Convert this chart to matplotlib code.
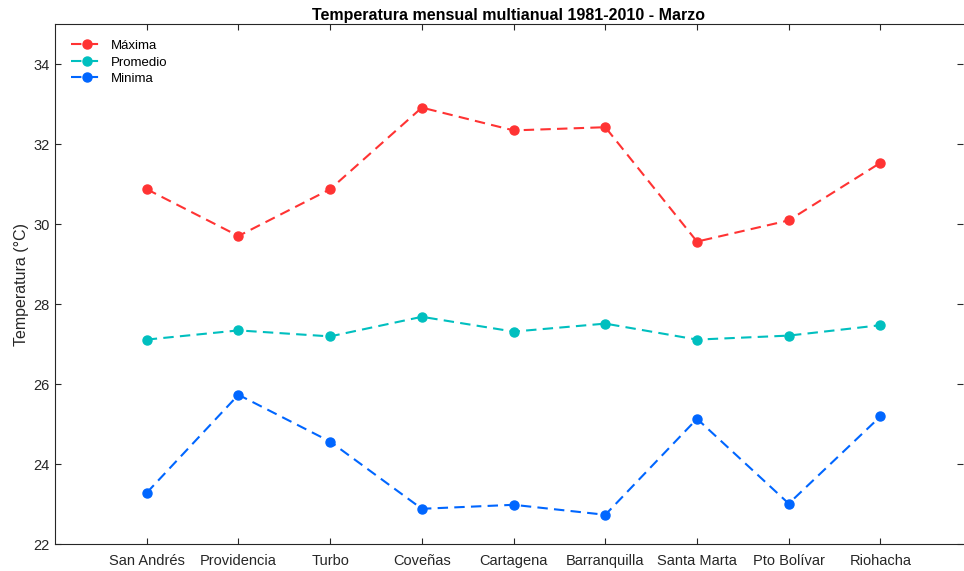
"""Temperatura mensual multianual 1981-2010 (Marzo) por estación."""

import matplotlib

matplotlib.use("Agg")
import matplotlib.pyplot as plt
import numpy as np

plt.rcParams["font.family"] = ["Liberation Sans", "DejaVu Sans"]

ESTACIONES = [
    "San Andrés", "Providencia", "Turbo", "Coveñas", "Cartagena",
    "Barranquilla", "Santa Marta", "Pto Bolívar", "Riohacha",
]
MAXIMA = [30.87, 29.70, 30.87, 32.91, 32.34, 32.42, 29.56, 30.09, 31.53]
PROMEDIO = [27.11, 27.34, 27.19, 27.68, 27.31, 27.51, 27.11, 27.21, 27.47]
MINIMA = [23.28, 25.73, 24.56, 22.88, 22.98, 22.73, 25.13, 23.01, 25.19]
Y_TICKS = [22, 24, 26, 28, 30, 32, 34]

SERIES = [
    ("Máxima", MAXIMA, "#ff3333"),
    ("Promedio", PROMEDIO, "#00bfbf"),
    ("Minima", MINIMA, "#0066ff"),
]

AXIS_COLOR = "#262626"

fig = plt.figure(figsize=(9.64, 5.71), dpi=100)
ax = fig.add_axes([55 / 964, 1 - 544 / 571, (963 - 55) / 964, (544 - 24) / 571])

x = np.arange(1, len(ESTACIONES) + 1)
for label, values, color in SERIES:
    ax.plot(x, values, linestyle=(0, (5, 3)), linewidth=1.5, color=color,
            marker="o", markersize=6.5, label=label)

ax.set_xlim(0, 9.9)
ax.set_ylim(22, 35)
ax.set_xticks(x)
ax.set_xticklabels(ESTACIONES)
ax.set_yticks(Y_TICKS)
ax.tick_params(direction="in", length=4, width=0.8, color=AXIS_COLOR,
               labelcolor=AXIS_COLOR, labelsize=10.5, top=True, right=True, pad=7)
ax.tick_params(axis="y", pad=4)
for side in ("left", "bottom", "top"):
    ax.spines[side].set_color(AXIS_COLOR)
    ax.spines[side].set_linewidth(0.8)
ax.spines["right"].set_visible(False)

ax.set_ylabel("Temperatura (°C)", fontsize=11.5, color=AXIS_COLOR, labelpad=3)
ax.set_title("Temperatura mensual multianual 1981-2010 - Marzo",
             fontsize=11.5, fontweight="bold", color="black", pad=3)

ax.legend(loc="upper left", frameon=False, fontsize=9.5, handlelength=2.5,
          borderaxespad=0.8, labelspacing=0.32, handletextpad=0.5)

fig.savefig("out.png", dpi=100)
plt.close(fig)
